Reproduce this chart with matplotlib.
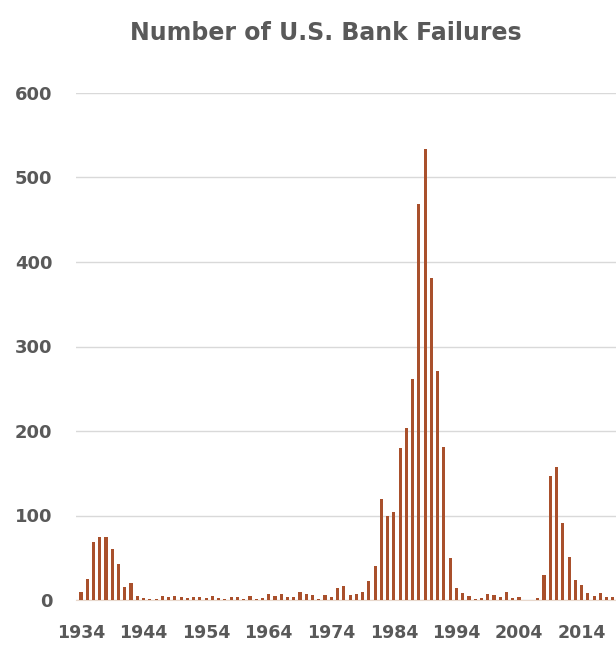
import matplotlib
matplotlib.use("Agg")
import matplotlib.pyplot as plt

years = list(range(1934, 2020))
failures = [
    9, 25, 69, 75, 74, 60, 43, 15, 20, 5,      # 1934-1943
    2, 1, 1, 5, 3, 5, 4, 2, 3, 4,              # 1944-1953
    2, 5, 2, 1, 4, 3, 1, 5, 1, 2,              # 1954-1963
    7, 5, 7, 4, 3, 9, 7, 6, 1, 6,              # 1964-1973
    4, 14, 17, 6, 7, 10, 22, 40, 119, 99,      # 1974-1983
    104, 180, 203, 262, 469, 534, 381, 271, 181, 50,  # 1984-1993
    14, 8, 5, 1, 2, 7, 6, 4, 10, 2,            # 1994-2003
    3, 0, 0, 2, 30, 147, 157, 91, 51, 24,      # 2004-2013
    18, 8, 5, 8, 3, 4,                         # 2014-2019
]
tick_years = [1934, 1944, 1954, 1964, 1974, 1984, 1994, 2004, 2014]
y_ticks = [0, 100, 200, 300, 400, 500, 600]
title = "Number of U.S. Bank Failures"

W, H = 616, 645
fig = plt.figure(figsize=(W / 100, H / 100), dpi=100)
ax = fig.add_axes([76 / W, 1 - 600 / H, (W - 76) / W, (600 - 93) / H])

ax.bar(years, failures, width=0.5, color="#A9502C", edgecolor="none", zorder=3)

ax.set_ylim(0, 600)
ax.set_xlim(1933.2, 2019.5)
ax.set_yticks(y_ticks)
ax.set_xticks(tick_years)
ax.set_xticklabels([str(y) for y in tick_years])
ax.grid(axis="y", color="#D9D9D9", linewidth=1, zorder=0)
for s in ["top", "right", "left"]:
    ax.spines[s].set_visible(False)
ax.spines["bottom"].set_color("#E8D8CC")
ax.tick_params(axis="both", length=0, labelcolor="#595959", labelsize=12.5)
ax.tick_params(axis="y", labelsize=13, pad=17)
ax.tick_params(axis="x", pad=17)
for lab in ax.get_xticklabels() + ax.get_yticklabels():
    lab.set_fontweight("bold")

fig.text(326 / W, 1 - 33 / H, title, ha="center", va="center",
         fontsize=17, fontweight="bold", color="#595959")

fig.savefig("out.png", dpi=100)
